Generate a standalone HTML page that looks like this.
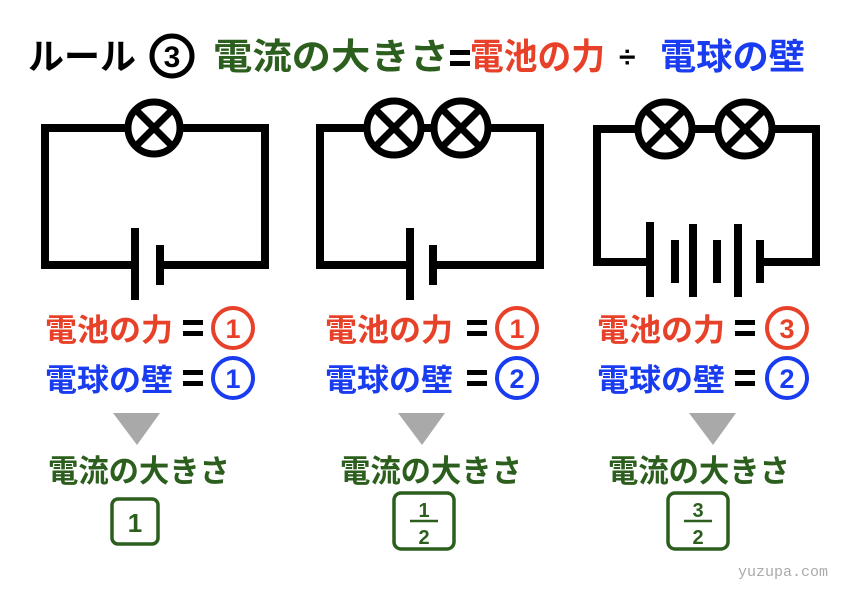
<!DOCTYPE html>
<html><head><meta charset="utf-8"><style>
html,body{margin:0;padding:0;background:#fff;}
svg{display:block;}
text{font-family:"Liberation Sans","Noto Sans CJK JP",sans-serif;font-weight:bold;}
</style></head><body>
<svg width="842" height="595" viewBox="0 0 842 595" xmlns="http://www.w3.org/2000/svg">
<defs>
<g id="eq"><rect x="0" y="0" width="20" height="5" fill="#000"/><rect x="0" y="11" width="20" height="5" fill="#000"/></g>
</defs>
<!-- Title -->
<text x="28" y="69" font-size="36" fill="#000" textLength="108" lengthAdjust="spacingAndGlyphs">ルール</text>
<circle cx="172" cy="56" r="20" fill="none" stroke="#000" stroke-width="5"/>
<text x="172" y="67" font-size="30" fill="#000" text-anchor="middle">3</text>
<text x="213" y="69" font-size="36" fill="#2c5e1e" textLength="236" lengthAdjust="spacingAndGlyphs">電流の大きさ</text>
<use href="#eq" x="450" y="50"/>
<text x="470" y="69" font-size="36" fill="#e8412a" textLength="135" lengthAdjust="spacingAndGlyphs">電池の力</text>
<text x="619" y="67" font-size="30" fill="#000">÷</text>
<text x="660" y="69" font-size="36" fill="#1a3cf0" textLength="145" lengthAdjust="spacingAndGlyphs">電球の壁</text>

<g fill="none" stroke="#000" stroke-width="8">
<!-- circuit 1 -->
<polyline points="135,265 45,265 45,128 128,128"/>
<polyline points="180,128 265,128 265,265 160,265"/>
<circle cx="154" cy="128" r="26" stroke-width="7"/>
<line x1="137" y1="111" x2="171" y2="145" stroke-width="7"/><line x1="171" y1="111" x2="137" y2="145" stroke-width="7"/>
<line x1="135" y1="228" x2="135" y2="300"/>
<line x1="160" y1="245" x2="160" y2="285"/>
<!-- circuit 2 -->
<polyline points="410,265 320,265 320,128 367,128"/>
<line x1="421" y1="128" x2="434" y2="128"/>
<polyline points="488,128 540,128 540,265 433,265"/>
<circle cx="394" cy="128" r="27" stroke-width="7"/>
<line x1="376" y1="110" x2="412" y2="146" stroke-width="7"/><line x1="412" y1="110" x2="376" y2="146" stroke-width="7"/>
<circle cx="461" cy="128" r="27" stroke-width="7"/>
<line x1="443" y1="110" x2="479" y2="146" stroke-width="7"/><line x1="479" y1="110" x2="443" y2="146" stroke-width="7"/>
<line x1="410" y1="228" x2="410" y2="300"/>
<line x1="433" y1="245" x2="433" y2="285"/>
<!-- circuit 3 -->
<polyline points="650,262 597,262 597,129 637,129"/>
<line x1="693" y1="129" x2="717" y2="129"/>
<polyline points="773,129 816,129 816,262 760,262"/>
<circle cx="665" cy="129" r="27" stroke-width="7"/>
<line x1="647" y1="111" x2="683" y2="147" stroke-width="7"/><line x1="683" y1="111" x2="647" y2="147" stroke-width="7"/>
<circle cx="745" cy="129" r="27" stroke-width="7"/>
<line x1="727" y1="111" x2="763" y2="147" stroke-width="7"/><line x1="763" y1="111" x2="727" y2="147" stroke-width="7"/>
<line x1="650" y1="222" x2="650" y2="297"/>
<line x1="675" y1="240" x2="675" y2="283"/>
<line x1="693" y1="224" x2="693" y2="297"/>
<line x1="717" y1="240" x2="717" y2="283"/>
<line x1="738" y1="224" x2="738" y2="297"/>
<line x1="760" y1="240" x2="760" y2="283"/>
</g>

<g>
<text x="45" y="341" font-size="31" fill="#e8412a" textLength="128" lengthAdjust="spacingAndGlyphs">電池の力</text>
<use href="#eq" x="183" y="320"/>
<circle cx="233" cy="328" r="20" fill="none" stroke="#e8412a" stroke-width="4"/>
<text x="233" y="338" font-size="27" fill="#e8412a" text-anchor="middle">1</text>
<text x="45" y="391" font-size="31" fill="#1a3cf0" textLength="128" lengthAdjust="spacingAndGlyphs">電球の壁</text>
<use href="#eq" x="183" y="370"/>
<circle cx="233" cy="378" r="20" fill="none" stroke="#1a3cf0" stroke-width="4"/>
<text x="233" y="388" font-size="27" fill="#1a3cf0" text-anchor="middle">1</text>
<polygon points="113,413 160,413 137,445" fill="#a9a9a9"/>
<text x="48" y="482" font-size="31" fill="#2c5e1e" textLength="182" lengthAdjust="spacingAndGlyphs">電流の大きさ</text>
<rect x="112" y="499" width="46" height="45" rx="6" fill="none" stroke="#2c5e1e" stroke-width="3.5"/>
<text x="135" y="532" font-size="26" fill="#2c5e1e" text-anchor="middle">1</text>
</g>

<g transform="translate(280,0)">
<text x="45" y="341" font-size="31" fill="#e8412a" textLength="128" lengthAdjust="spacingAndGlyphs">電池の力</text>
<use href="#eq" x="187" y="320"/>
<circle cx="237" cy="328" r="20" fill="none" stroke="#e8412a" stroke-width="4"/>
<text x="237" y="338" font-size="27" fill="#e8412a" text-anchor="middle">1</text>
<text x="45" y="391" font-size="31" fill="#1a3cf0" textLength="128" lengthAdjust="spacingAndGlyphs">電球の壁</text>
<use href="#eq" x="187" y="370"/>
<circle cx="237" cy="378" r="20" fill="none" stroke="#1a3cf0" stroke-width="4"/>
<text x="237" y="388" font-size="27" fill="#1a3cf0" text-anchor="middle">2</text>
<polygon points="118,413 165,413 142,445" fill="#a9a9a9"/>
<text x="60" y="482" font-size="31" fill="#2c5e1e" textLength="182" lengthAdjust="spacingAndGlyphs">電流の大きさ</text>
<rect x="114" y="493" width="60" height="56" rx="7" fill="none" stroke="#2c5e1e" stroke-width="3.5"/>
<text x="144" y="517" font-size="20" fill="#2c5e1e" text-anchor="middle">1</text>
<line x1="130" y1="521" x2="158" y2="521" stroke="#2c5e1e" stroke-width="2.5"/>
<text x="144" y="544" font-size="20" fill="#2c5e1e" text-anchor="middle">2</text>
</g>

<g transform="translate(552,0)">
<text x="45" y="341" font-size="31" fill="#e8412a" textLength="128" lengthAdjust="spacingAndGlyphs">電池の力</text>
<use href="#eq" x="183" y="320"/>
<circle cx="235" cy="328" r="20" fill="none" stroke="#e8412a" stroke-width="4"/>
<text x="235" y="338" font-size="27" fill="#e8412a" text-anchor="middle">3</text>
<text x="45" y="391" font-size="31" fill="#1a3cf0" textLength="128" lengthAdjust="spacingAndGlyphs">電球の壁</text>
<use href="#eq" x="183" y="370"/>
<circle cx="235" cy="378" r="20" fill="none" stroke="#1a3cf0" stroke-width="4"/>
<text x="235" y="388" font-size="27" fill="#1a3cf0" text-anchor="middle">2</text>
<polygon points="137,413 184,413 161,445" fill="#a9a9a9"/>
<text x="56" y="482" font-size="31" fill="#2c5e1e" textLength="182" lengthAdjust="spacingAndGlyphs">電流の大きさ</text>
<rect x="116" y="493" width="60" height="56" rx="7" fill="none" stroke="#2c5e1e" stroke-width="3.5"/>
<text x="146" y="517" font-size="20" fill="#2c5e1e" text-anchor="middle">3</text>
<line x1="132" y1="521" x2="160" y2="521" stroke="#2c5e1e" stroke-width="2.5"/>
<text x="146" y="544" font-size="20" fill="#2c5e1e" text-anchor="middle">2</text>
</g>

<text x="828" y="576" font-size="15" fill="#aaa" text-anchor="end" style="font-family:'Liberation Mono',monospace;font-weight:normal">yuzupa.com</text>
</svg>
</body></html>
